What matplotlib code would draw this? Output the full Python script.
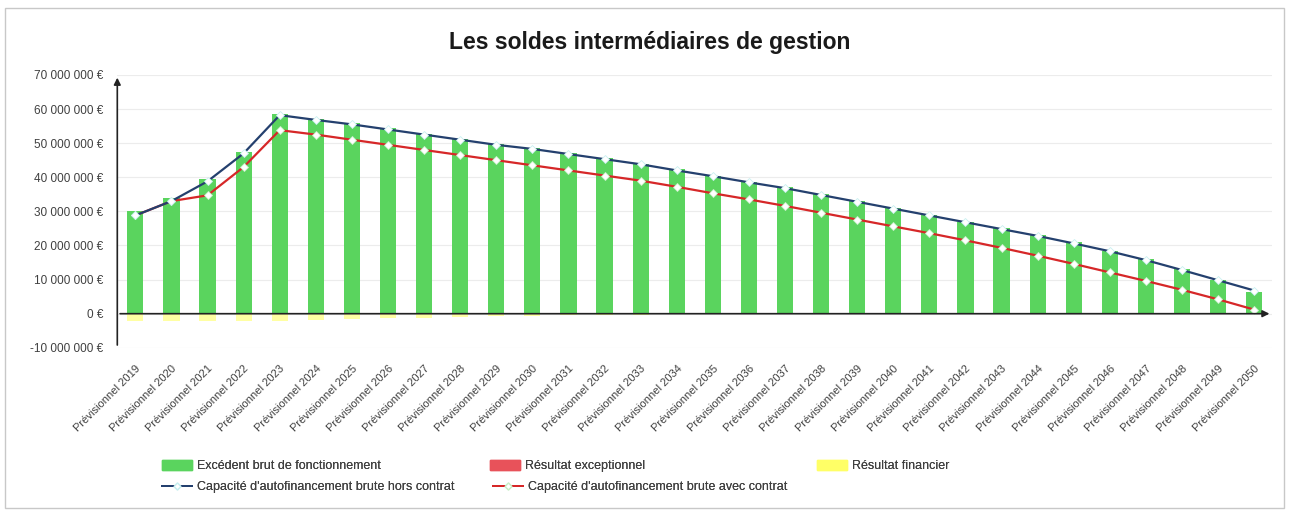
import matplotlib
matplotlib.use('Agg')
import matplotlib.pyplot as plt
from matplotlib.patches import Patch, Rectangle
from matplotlib.lines import Line2D
from matplotlib.ticker import FuncFormatter
import numpy as np

plt.rcParams['font.family'] = ['Liberation Sans', 'DejaVu Sans']
plt.rcParams['text.color'] = '#404040'

# Soldes de gestion, en euros (prévisionnel 2019-2050)
years = list(range(2019, 2051))
labels = [f'Prévisionnel {y}' for y in years]

ebf = [30.0, 34.0, 39.5, 47.5, 58.5, 57.0, 55.8, 54.3, 52.8, 51.3, 49.8, 48.5,
       47.0, 45.5, 44.0, 42.3, 40.5, 38.7, 37.0, 35.0, 33.0, 31.0, 29.0, 27.0,
       25.0, 23.0, 21.0, 18.5, 16.0, 13.0, 10.0, 6.5]
res_exceptionnel = [0.0] * 32
res_financier = [-2.0, -2.0, -2.0, -2.0, -2.0, -1.8, -1.6, -1.4, -1.2, -1.0, -0.8, -0.6,
                 -0.5, -0.4, -0.3, -0.2, -0.1, 0.0, 0.0, 0.0, 0.0, 0.0, 0.0, 0.0,
                 0.0, 0.0, 0.0, 0.0, 0.0, 0.0, 0.0, 0.0]
caf_hors_contrat = [28.8, 33.0, 38.8, 47.0, 58.2, 56.8, 55.5, 54.0, 52.5, 51.0, 49.5, 48.3,
                    46.8, 45.3, 43.8, 42.0, 40.3, 38.5, 36.8, 34.8, 32.8, 30.8, 28.8, 26.8,
                    24.8, 22.8, 20.6, 18.3, 15.7, 12.8, 9.8, 6.8]
caf_avec_contrat = [28.8, 33.0, 34.7, 43.0, 53.8, 52.5, 51.0, 49.5, 48.0, 46.5, 45.0, 43.5,
                    42.0, 40.5, 39.0, 37.2, 35.3, 33.5, 31.6, 29.6, 27.6, 25.6, 23.6, 21.5,
                    19.3, 17.0, 14.6, 12.1, 9.6, 7.0, 4.2, 1.2]

GREEN = '#5ad45e'
RED = '#e8525a'
YELLOW = '#ffff66'
NAVY = '#24406e'
LINE_RED = '#d62728'
TEXT = '#404040'

W, H = 1289, 513


def euros(v, pos):
    return f'{int(round(v)):,} €'.replace(',', ' ')


fig = plt.figure(figsize=(W / 100, H / 100), dpi=100)
ax = fig.add_axes([0.091, 0.322, 0.896, 0.532])

x = np.arange(len(years))
scale = 1e6
ebf_v = np.array(ebf) * scale
exc_v = np.array(res_exceptionnel) * scale
fin_v = np.array(res_financier) * scale

w = 0.45
ax.bar(x, ebf_v, w, color=GREEN, zorder=2)
ax.bar(x, exc_v, w, bottom=ebf_v, color=RED, zorder=2)
ax.bar(x, fin_v, w, color=YELLOW, alpha=0.6, zorder=2)

ax.plot(x, np.array(caf_avec_contrat) * scale, color=LINE_RED, lw=1.6, zorder=3,
        marker='D', ms=4, mfc='white', mec='#c8f0c8', mew=0.6)
ax.plot(x, np.array(caf_hors_contrat) * scale, color=NAVY, lw=1.6, zorder=3,
        marker='D', ms=4, mfc='white', mec='#c8f0f0', mew=0.6)

ax.set_xlim(-0.5, 31.5)
ax.set_ylim(-10e6, 70e6)
ax.set_yticks(np.arange(-10e6, 70e6 + 1, 10e6))
ax.yaxis.set_major_formatter(FuncFormatter(euros))
ax.tick_params(axis='y', labelsize=8.5, length=0, pad=10, labelcolor=TEXT)
ax.set_xticks(x)
ax.set_xticklabels(labels, rotation=45, ha='right', rotation_mode='anchor', fontsize=8)
ax.tick_params(axis='x', length=0, pad=11, labelcolor=TEXT)
ax.grid(axis='y', color='#ececec', lw=0.8, zorder=0)

for s in ax.spines.values():
    s.set_visible(False)

# axes fléchés
ax.annotate('', xy=(-0.5, 70e6), xytext=(-0.5, -10e6),
            arrowprops=dict(arrowstyle='-|>', color='#222222', lw=1.2, mutation_scale=10),
            annotation_clip=False, zorder=4)
ax.annotate('', xy=(31.5, 0), xytext=(-0.5, 0),
            arrowprops=dict(arrowstyle='-|>', color='#222222', lw=1.2, mutation_scale=10),
            annotation_clip=False, zorder=4)

fig.text(650 / W, 1 - 42 / H, 'Les soldes intermédiaires de gestion', ha='center',
         va='center', fontsize=16.5, fontweight='bold', color='#1a1a1a')

# cadre du graphique
fig.add_artist(Rectangle((0.004, 0.01), 0.992, 0.975, transform=fig.transFigure,
                         fill=False, edgecolor='#c8c8c8', lw=1))

entries = [
    (Patch(color=GREEN, label='Excédent brut de fonctionnement'), 162, 466),
    (Patch(color=RED, label='Résultat exceptionnel'), 490, 466),
    (Patch(color=YELLOW, label='Résultat financier'), 817, 466),
    (Line2D([], [], color=NAVY, lw=1.4, marker='D', ms=3.5, mfc='white', mec='#c8f0f0',
            label="Capacité d'autofinancement brute hors contrat"), 162, 487),
    (Line2D([], [], color=LINE_RED, lw=1.4, marker='D', ms=3.5, mfc='white', mec='#c8f0c8',
            label="Capacité d'autofinancement brute avec contrat"), 493, 487),
]
for handle, px, py in entries:
    leg = fig.legend(handles=[handle], loc='center left',
                     bbox_to_anchor=(px / W, 1 - py / H), frameon=False, fontsize=9,
                     handlelength=2.4, handleheight=0.8, handletextpad=0.4,
                     borderpad=0, borderaxespad=0, labelcolor=TEXT)
    fig.add_artist(leg)

fig.savefig('out.png', dpi=100, facecolor='white')
